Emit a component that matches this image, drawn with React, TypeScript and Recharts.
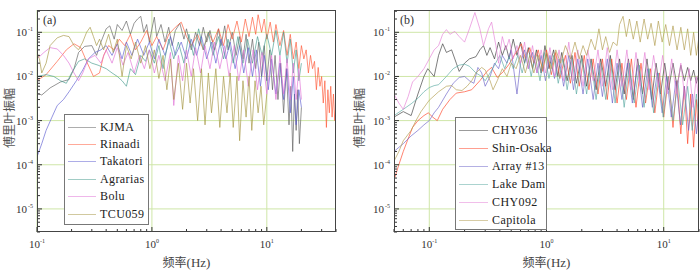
import { CartesianGrid, Line, LineChart, XAxis, YAxis } from "recharts";

type Pt = [number, number];

// ---- panel (a) ----
const kjma: Pt[] = [
  [0.1, 4.2e-3], [0.11, 3.8e-3], [0.13, 5.5e-3], [0.16, 7.5e-3], [0.19, 8.5e-3], [0.21, 1.5e-2],
  [0.23, 3.5e-2], [0.26, 4.8e-2], [0.3, 5e-2], [0.33, 3e-2], [0.36, 6e-2], [0.4, 1.2e-1],
  [0.43, 1.4e-1], [0.47, 7e-2], [0.5, 1.5e-1], [0.55, 1.1e-1], [0.6, 1.8e-1], [0.65, 9e-2],
  [0.7, 1.6e-1], [0.75, 2.0e-1], [0.8, 2.3e-1], [0.85, 1.0e-1], [0.9, 1.5e-1], [0.95, 6e-2],
  [1.0, 1.2e-1], [1.05, 2.2e-1], [1.1, 8e-2], [1.2, 1.5e-1], [1.3, 6e-2], [1.4, 1.3e-1],
  [1.5, 5e-2], [1.6, 1.1e-1], [1.75, 1.6e-1], [1.9, 7e-2], [2.0, 1.2e-1], [2.2, 4e-2],
  [2.4, 1.0e-1], [2.6, 5e-2], [2.8, 1.3e-1], [3.0, 6e-2], [3.2, 1.1e-1], [3.5, 4e-2],
  [3.8, 1.2e-1], [4.0, 5e-2], [4.3, 1.4e-1], [4.6, 4e-2], [5.0, 1.0e-1], [5.4, 3e-2],
  [5.8, 8e-2], [6.2, 2.5e-2], [6.6, 9e-2], [7.0, 2e-2], [7.5, 7e-2], [8.0, 1.5e-2],
  [8.5, 6e-2], [9.0, 1e-2], [9.5, 5e-2], [10, 8e-3], [10.6, 4e-2], [11.2, 5e-3],
  [11.8, 3e-2], [12.5, 3e-3], [13.2, 2e-2], [14, 1.5e-3], [14.8, 1.5e-2], [15.6, 8e-4],
  [16.2, 6e-3], [16.8, 2e-4], [17.4, 4e-3], [18, 6e-4], [18.6, 5e-3], [19.2, 3e-4], [20, 2e-3],
];
const rinaldi: Pt[] = [
  [0.1, 8e-3], [0.12, 1.1e-2], [0.15, 2.2e-2], [0.18, 4e-2], [0.21, 5.5e-2], [0.24, 4.5e-2],
  [0.27, 2.2e-2], [0.31, 1.0e-2], [0.35, 1.2e-2], [0.38, 3e-2], [0.42, 5e-2], [0.47, 4e-2],
  [0.52, 7e-2], [0.58, 5e-2], [0.65, 9e-2], [0.72, 4e-2], [0.8, 6e-2], [0.9, 1.1e-1],
  [1.0, 5e-2], [1.1, 8e-2], [1.25, 4e-2], [1.4, 9e-2], [1.6, 1.3e-1], [1.8, 1.7e-1],
  [2.0, 8e-2], [2.2, 5e-2], [2.5, 9e-2], [2.8, 4e-2], [3.1, 1.0e-1], [3.4, 6e-2],
  [3.8, 1.2e-1], [4.2, 5e-2], [4.6, 1.5e-1], [5.0, 7e-2], [5.5, 1.8e-1], [6.0, 6e-2],
  [6.5, 2.0e-1], [7.0, 8e-2], [7.5, 2.2e-1], [8.0, 9e-2], [8.4, 2.5e-1], [9.0, 1.0e-1],
  [9.5, 2.0e-1], [10, 7e-2], [10.7, 1.7e-1], [11.4, 6e-2], [12, 1.5e-1], [13, 5e-2],
  [14, 1.1e-1], [15, 3e-2], [16, 9e-2], [17, 2.5e-2], [18, 6e-2], [19, 1.5e-2],
  [20, 5e-2], [21, 2.5e-2], [22, 4e-2], [23, 1.2e-2], [24, 3e-2], [25, 1.5e-2],
  [26, 2.2e-2], [27, 5e-3], [28, 1.6e-2], [29, 6e-3], [30, 1.0e-2], [31, 2.5e-3],
  [32, 8e-3], [33, 7e-4], [34, 5e-3], [35, 1.5e-3], [36, 6e-3], [37, 1.2e-3],
  [38, 4e-3], [39, 1.0e-3], [40, 2.5e-3],
];
const takatori: Pt[] = [
  [0.1, 1.5e-4], [0.11, 3e-4], [0.12, 6e-4], [0.135, 1.2e-3], [0.15, 2.2e-3], [0.17, 3e-3],
  [0.19, 4.5e-3], [0.22, 8e-3], [0.25, 1.4e-2], [0.28, 2.5e-2], [0.32, 3.5e-2], [0.36, 4e-2],
  [0.4, 5e-2], [0.45, 3e-2], [0.5, 5.5e-2], [0.55, 2.5e-2], [0.6, 6e-2], [0.67, 3e-2],
  [0.75, 7e-2], [0.85, 3e-2], [0.95, 6e-2], [1.05, 2.5e-2], [1.15, 7e-2], [1.3, 3e-2],
  [1.45, 8e-2], [1.6, 3e-2], [1.8, 6e-2], [2.0, 2.5e-2], [2.2, 7e-2], [2.45, 3e-2],
  [2.7, 8e-2], [3.0, 2.5e-2], [3.3, 6e-2], [3.6, 2e-2], [4.0, 7e-2], [4.4, 2.5e-2],
  [4.8, 6e-2], [5.3, 1.5e-2], [5.8, 5e-2], [6.3, 1.2e-2], [6.9, 4.5e-2], [7.5, 1e-2],
  [8.1, 4e-2], [8.8, 6e-3], [9.5, 3e-2], [10.3, 5e-3], [11, 2.5e-2], [12, 4e-3],
  [13, 2e-2], [14, 3e-3], [15, 1.5e-2], [16, 1.5e-3], [17, 1e-2], [18, 8e-4],
  [19, 5e-3], [20, 2e-3],
];
const agrarias: Pt[] = [
  [0.1, 1.0e-2], [0.12, 1.1e-2], [0.14, 1.0e-2], [0.16, 8e-3], [0.18, 7e-3], [0.2, 1.2e-2],
  [0.23, 2.2e-2], [0.26, 2.5e-2], [0.3, 2.0e-2], [0.34, 1.8e-2], [0.4, 1.5e-2], [0.45, 1.2e-2],
  [0.5, 1.0e-2], [0.55, 8e-3], [0.6, 6e-3], [0.65, 1.5e-2], [0.72, 1.1e-2], [0.8, 3e-2],
  [0.88, 2.2e-2], [0.95, 4e-2], [1.05, 2e-2], [1.15, 5e-2], [1.25, 1.5e-2], [1.4, 7e-2],
  [1.55, 2.5e-2], [1.7, 6e-2], [1.9, 2e-2], [2.1, 9e-2], [2.3, 3e-2], [2.55, 1.2e-1],
  [2.8, 4e-2], [3.1, 1.0e-1], [3.4, 3e-2], [3.8, 8e-2], [4.2, 2.5e-2], [4.6, 7e-2],
  [5.1, 2e-2], [5.6, 8e-2], [6.2, 2e-2], [6.8, 7e-2], [7.5, 2e-2], [8.3, 8e-2],
  [9.1, 3e-2], [10, 9e-2], [11, 3e-2], [12, 1.1e-1], [13, 3e-2], [14, 1.0e-1],
  [15, 2e-2], [16, 7e-2], [17, 1.2e-2], [18, 4e-2], [19, 8e-3], [20, 2e-2],
];
const bolu: Pt[] = [
  [0.1, 2.5e-2], [0.115, 3.5e-2], [0.13, 4.5e-2], [0.15, 4.2e-2], [0.17, 3e-2], [0.19, 2e-2],
  [0.21, 1.2e-2], [0.23, 8e-3], [0.25, 1.2e-2], [0.28, 2.5e-2], [0.32, 3e-2], [0.36, 2e-2],
  [0.4, 4e-2], [0.45, 2e-2], [0.5, 4.5e-2], [0.56, 1.8e-2], [0.62, 3.5e-2], [0.7, 1.2e-2],
  [0.78, 3e-2], [0.86, 1.5e-2], [0.95, 4e-2], [1.05, 1.2e-2], [1.15, 3e-2], [1.3, 8e-3],
  [1.45, 3.5e-2], [1.55, 2.2e-3], [1.7, 3e-2], [1.85, 8e-3], [2.0, 4e-2], [2.2, 1e-2],
  [2.4, 4.5e-2], [2.65, 1.2e-2], [2.9, 5e-2], [3.2, 1.5e-2], [3.5, 6e-2], [3.9, 1.5e-2],
  [4.3, 5e-2], [4.7, 1e-2], [5.2, 5e-2], [5.7, 8e-3], [6.3, 4e-2], [6.9, 6e-3],
  [7.6, 4e-2], [8.3, 5e-3], [9.1, 3.5e-2], [10, 4e-3], [11, 3e-2], [12, 3e-3],
  [13, 3e-2], [14, 4e-3], [15, 2.5e-2], [16, 3e-3], [17, 2e-2], [18, 3e-3],
  [19, 1.5e-2], [20, 3e-3],
];
const tcu059: Pt[] = [
  [0.1, 3.5e-2], [0.105, 2.5e-2], [0.11, 1.2e-2], [0.12, 2.0e-2], [0.13, 5e-2], [0.15, 7.5e-2],
  [0.17, 8.5e-2], [0.19, 8e-2], [0.21, 5e-2], [0.23, 4e-2], [0.25, 6e-2], [0.27, 1.0e-1],
  [0.29, 1.3e-1], [0.31, 8e-2], [0.33, 5e-2], [0.35, 7e-2], [0.38, 4e-2], [0.42, 9e-2],
  [0.46, 3.5e-2], [0.5, 7e-2], [0.55, 1.0e-2], [0.6, 5e-2], [0.66, 2.5e-2], [0.72, 6e-2],
  [0.8, 2e-2], [0.88, 5e-2], [0.96, 1.5e-2], [1.05, 4e-2], [1.15, 9e-3], [1.25, 3e-2],
  [1.35, 5e-3], [1.45, 2.5e-2], [1.55, 3e-3], [1.7, 2e-2], [1.85, 1.8e-3], [2.0, 2e-2],
  [2.15, 2.5e-3], [2.3, 1.5e-2], [2.5, 1e-3], [2.7, 1.5e-2], [2.9, 8e-4], [3.1, 1.2e-2],
  [3.3, 1.5e-3], [3.6, 1.5e-2], [3.9, 7e-4], [4.2, 1e-2], [4.5, 1.5e-3], [4.8, 1.2e-2],
  [5.1, 7e-4], [5.5, 1e-2], [5.8, 3.5e-4], [6.2, 8e-3], [6.6, 1.2e-3], [7.0, 1e-2],
  [7.4, 6e-4], [7.9, 8e-3], [8.4, 1.5e-3], [8.9, 6e-3], [9.4, 8e-4], [10, 4e-3],
];

// ---- panel (b) ----
const chy036: Pt[] = [
  [0.05, 1.2e-3], [0.06, 1.6e-3], [0.07, 1.3e-3], [0.08, 4e-3], [0.09, 1.0e-2], [0.097, 1.5e-2],
  [0.11, 1.0e-2], [0.12, 3e-2], [0.13, 5.5e-2], [0.14, 3.5e-2], [0.155, 4e-2], [0.17, 2e-2],
  [0.18, 1.3e-2], [0.2, 2e-2], [0.22, 2.5e-2], [0.25, 2.8e-2], [0.27, 4e-2], [0.29, 5e-2],
  [0.31, 3e-2], [0.33, 4.5e-2], [0.36, 2.5e-2], [0.39, 6e-2], [0.42, 3e-2], [0.45, 5e-2],
  [0.48, 2.5e-2], [0.52, 7e-2], [0.56, 3e-2], [0.6, 6e-2], [0.65, 2e-2], [0.7, 4.5e-2],
  [0.76, 1.5e-2], [0.82, 4e-2], [0.9, 1.2e-2], [0.97, 5e-2], [1.05, 1.5e-2], [1.15, 4e-2],
  [1.25, 1e-2], [1.35, 3.5e-2], [1.5, 8e-3], [1.65, 3e-2], [1.8, 7e-3], [2.0, 3e-2],
  [2.2, 6e-3], [2.4, 2.5e-2], [2.65, 5e-3], [2.9, 2.5e-2], [3.2, 6e-3], [3.5, 3e-2],
  [3.85, 5e-3], [4.2, 2.5e-2], [4.6, 4e-3], [5.0, 2.5e-2], [5.5, 3e-3], [6.0, 2.5e-2],
  [6.6, 4e-3], [7.2, 2.5e-2], [7.9, 3e-3], [8.6, 2e-2], [9.4, 4e-3], [10.2, 2e-2],
  [11, 5e-3], [12, 2e-2], [13, 6e-3], [14, 1.8e-2], [15, 8e-3], [16, 1.6e-2],
  [17, 8e-3], [18, 1.4e-2], [19, 7e-3], [20, 1.2e-2],
];
const shinOsaka: Pt[] = [
  [0.05, 4.5e-5], [0.055, 1e-4], [0.06, 2e-4], [0.065, 3.5e-4], [0.072, 7e-4], [0.08, 1e-3],
  [0.09, 1.3e-3], [0.098, 1.5e-3], [0.107, 1.2e-3], [0.117, 1.0e-3], [0.13, 1.8e-3], [0.15, 3e-3],
  [0.17, 4.2e-3], [0.2, 4.5e-3], [0.23, 5e-3], [0.27, 8e-3], [0.31, 1.3e-2], [0.34, 1.6e-2],
  [0.38, 9.5e-3], [0.43, 1.3e-2], [0.48, 1.9e-2], [0.53, 3e-2], [0.57, 4e-2], [0.61, 5.5e-2],
  [0.66, 2.5e-2], [0.72, 4.5e-2], [0.78, 2e-2], [0.85, 4e-2], [0.93, 1.3e-2], [1.0, 4e-2],
  [1.1, 1.1e-2], [1.2, 3.5e-2], [1.3, 9e-3], [1.45, 3e-2], [1.6, 7e-3], [1.75, 3.5e-2],
  [1.9, 6e-3], [2.1, 3e-2], [2.3, 5e-3], [2.5, 2.5e-2], [2.75, 4e-3], [3.0, 2.5e-2],
  [3.3, 3e-3], [3.6, 2.5e-2], [4.0, 2.5e-3], [4.4, 2e-2], [4.8, 3e-3], [5.3, 2.5e-2],
  [5.8, 2e-3], [6.4, 2e-2], [7.0, 2.5e-3], [7.7, 1.5e-2], [8.4, 1.5e-3], [9.2, 1.2e-2],
  [10, 1.2e-3], [11, 1e-2], [12, 7e-4], [13, 8e-3], [14, 5e-4], [15, 6e-3],
  [16, 3e-4], [17, 4e-3], [18, 2.5e-4], [19, 3e-3], [20, 3e-4],
];
const array13: Pt[] = [
  [0.05, 2e-4], [0.06, 3e-4], [0.07, 4.5e-4], [0.08, 6e-4], [0.09, 8e-4], [0.1, 1e-3],
  [0.11, 1.5e-3], [0.12, 2e-3], [0.14, 4e-3], [0.16, 7e-3], [0.18, 9.5e-3], [0.2, 1.0e-2],
  [0.22, 8e-3], [0.24, 7e-3], [0.26, 1.6e-2], [0.28, 1.2e-2], [0.3, 6e-3], [0.33, 1.0e-2],
  [0.36, 2e-2], [0.39, 1.5e-2], [0.42, 3e-2], [0.46, 2e-2], [0.5, 4e-2], [0.53, 1.2e-2],
  [0.56, 4e-3], [0.6, 2e-2], [0.65, 4e-2], [0.7, 1.5e-2], [0.76, 3.5e-2], [0.83, 1.2e-2],
  [0.9, 3e-2], [0.98, 8e-3], [1.07, 3e-2], [1.17, 9e-3], [1.28, 2.5e-2], [1.4, 6e-3],
  [1.55, 3e-2], [1.7, 5e-3], [1.85, 2.5e-2], [2.05, 4e-3], [2.25, 2.5e-2], [2.5, 3e-3],
  [2.75, 2e-2], [3.0, 3.5e-3], [3.3, 2.5e-2], [3.65, 2.5e-3], [4.0, 2e-2], [4.4, 3e-3],
  [4.9, 2e-2], [5.4, 2.5e-3], [6.0, 1.8e-2], [6.6, 2e-3], [7.3, 1.5e-2], [8.0, 2e-3],
  [8.8, 1.2e-2], [9.7, 1.5e-3], [10.6, 1e-2], [11.6, 1.2e-3], [12.7, 8e-3], [13.9, 8e-4],
  [15, 6e-3], [16.3, 6e-4], [17.6, 4e-3], [19, 5e-4], [20, 2e-3],
];
const lakeDam: Pt[] = [
  [0.05, 1.3e-3], [0.06, 1.8e-3], [0.07, 2.4e-3], [0.08, 3.2e-3], [0.09, 4.5e-3], [0.1, 5.6e-3],
  [0.11, 6.2e-3], [0.12, 6.5e-3], [0.14, 1e-2], [0.16, 1.5e-2], [0.18, 1.8e-2], [0.2, 1.9e-2],
  [0.22, 1.7e-2], [0.25, 1.2e-2], [0.28, 1.0e-2], [0.3, 8e-3], [0.33, 1.2e-2], [0.36, 1.8e-2],
  [0.4, 3e-2], [0.44, 1.5e-2], [0.48, 2.8e-2], [0.52, 1.5e-2], [0.57, 3e-2], [0.62, 1.2e-2],
  [0.68, 3.5e-2], [0.74, 1e-2], [0.8, 3e-2], [0.88, 8e-3], [0.96, 3.5e-2], [1.05, 9e-3],
  [1.15, 3e-2], [1.26, 7e-3], [1.38, 2.5e-2], [1.5, 5e-3], [1.65, 2.5e-2], [1.8, 4e-3],
  [2.0, 2.5e-2], [2.2, 4e-3], [2.4, 2.2e-2], [2.65, 3e-3], [2.9, 2e-2], [3.2, 3e-3],
  [3.5, 2.5e-2], [3.85, 2.5e-3], [4.2, 2e-2], [4.6, 2e-3], [5.1, 2e-2], [5.6, 2.5e-3],
  [6.2, 1.8e-2], [6.8, 2e-3], [7.5, 1.5e-2], [8.2, 1.5e-3], [9.0, 1.2e-2], [9.9, 1.2e-3],
  [10.9, 1e-2], [12, 1e-3], [13.2, 8e-3], [14.5, 8e-4], [16, 6e-3], [17.5, 6e-4],
  [19, 4e-3], [20, 1e-3],
];
const chy092: Pt[] = [
  [0.05, 4e-3], [0.055, 2.5e-3], [0.06, 1.8e-3], [0.066, 3.5e-3], [0.072, 7.5e-3], [0.08, 1e-2],
  [0.09, 1.5e-2], [0.1, 2.5e-2], [0.11, 4e-2], [0.12, 5e-2], [0.13, 9e-2], [0.14, 1.15e-1],
  [0.15, 9e-2], [0.165, 1.05e-1], [0.18, 8e-2], [0.2, 6e-2], [0.22, 1.2e-1], [0.245, 2.8e-1],
  [0.27, 1.2e-1], [0.29, 5e-2], [0.32, 1.2e-1], [0.34, 1.7e-1], [0.37, 5e-2], [0.39, 2e-2],
  [0.42, 8e-2], [0.45, 4e-2], [0.48, 7e-2], [0.52, 2.5e-2], [0.56, 5e-2], [0.6, 2e-2],
  [0.65, 6e-2], [0.7, 1.5e-2], [0.76, 5e-2], [0.83, 1.2e-2], [0.9, 4e-2], [0.98, 1.2e-2],
  [1.07, 4.5e-2], [1.17, 1e-2], [1.28, 4e-2], [1.4, 8e-3], [1.55, 6e-2], [1.7, 8e-3],
  [1.85, 4e-2], [2.05, 6e-3], [2.25, 4e-2], [2.5, 8e-3], [2.75, 4e-2], [3.0, 6e-3],
  [3.3, 4.5e-2], [3.65, 5e-3], [4.0, 4e-2], [4.4, 6e-3], [4.85, 4e-2], [5.3, 5e-3],
  [5.8, 3.5e-2], [6.3, 6e-3], [6.9, 3.5e-2], [7.5, 5e-3], [8.2, 3e-2], [9.0, 6e-3],
  [9.8, 3e-2], [10.7, 4e-3], [11.7, 2.5e-2], [12.8, 4e-3], [14, 2e-2], [15.2, 3e-3],
  [16.5, 1.5e-2], [17.8, 2e-3], [19, 1e-2], [20, 2e-3],
];
const capitola: Pt[] = [
  [0.05, 1.2e-4], [0.055, 2e-4], [0.06, 3.5e-4], [0.07, 6e-4], [0.077, 1e-3], [0.085, 1.6e-3],
  [0.1, 2.9e-3], [0.12, 4.5e-3], [0.14, 6e-3], [0.155, 6.2e-3], [0.17, 5e-3], [0.19, 4.8e-3],
  [0.21, 6e-3], [0.23, 8e-3], [0.25, 1.2e-2], [0.28, 1.6e-2], [0.3, 1.4e-2], [0.33, 8e-3],
  [0.35, 5e-3], [0.38, 8e-3], [0.42, 1.5e-2], [0.46, 1e-2], [0.5, 2e-2], [0.55, 1.5e-2],
  [0.6, 3e-2], [0.66, 1.2e-2], [0.72, 3e-2], [0.78, 1.2e-2], [0.85, 3e-2], [0.93, 1.5e-2],
  [1.0, 3.5e-2], [1.1, 1.5e-2], [1.2, 4e-2], [1.32, 2e-2], [1.45, 5e-2], [1.6, 2.5e-2],
  [1.75, 6e-2], [1.9, 2.5e-2], [2.05, 5e-2], [2.2, 3e-2], [2.4, 7e-2], [2.6, 4e-2],
  [2.8, 1.2e-1], [3.0, 4e-2], [3.2, 8e-2], [3.45, 3.5e-2], [3.7, 6e-2], [4.0, 5e-2],
  [4.2, 1.5e-1], [4.5, 2.3e-1], [4.8, 8e-2], [5.1, 2e-1], [5.5, 7e-2], [5.9, 1.8e-1],
  [6.3, 6e-2], [6.8, 2e-1], [7.3, 7e-2], [7.8, 1.6e-1], [8.4, 5e-2], [9.0, 1.8e-1],
  [9.7, 6e-2], [10.4, 1.5e-1], [11.2, 5e-2], [12, 1.4e-1], [13, 4e-2], [14, 1.3e-1],
  [15, 4e-2], [16, 1.2e-1], [17, 3e-2], [18, 1e-1], [19, 3e-2], [20, 8e-2],
];

interface Series {
  name: string;
  color: string;
  points: Pt[];
}

const seriesA: Series[] = [
  { name: "KJMA", color: "#5c5c5c", points: kjma },
  { name: "Rinaadi", color: "#ff5533", points: rinaldi },
  { name: "Takatori", color: "#5c5cd0", points: takatori },
  { name: "Agrarias", color: "#449a8c", points: agrarias },
  { name: "Bolu", color: "#e070d6", points: bolu },
  { name: "TCU059", color: "#a4943f", points: tcu059 },
];
const seriesB: Series[] = [
  { name: "CHY036", color: "#383838", points: chy036 },
  { name: "Shin-Osaka", color: "#ff3f22", points: shinOsaka },
  { name: "Array #13", color: "#6a62c8", points: array13 },
  { name: "Lake Dam", color: "#58a8a0", points: lakeDam },
  { name: "CHY092", color: "#e47ed6", points: chy092 },
  { name: "Capitola", color: "#b09a4c", points: capitola },
];

const decades = [1e-6, 1e-5, 1e-4, 1e-3, 1e-2, 1e-1, 1, 10];
const yMajor = [1e-5, 1e-4, 1e-3, 1e-2, 1e-1];
const yDomain: [number, number] = [3e-6, 0.32];

function logTicks(lo: number, hi: number) {
  const out: number[] = [];
  for (const d of decades) {
    for (let k = 1; k <= 9; k++) {
      const v = d * k;
      if (v >= lo * 0.999 && v <= hi * 1.001) out.push(v);
    }
  }
  return out;
}

const serif = '"Liberation Serif", "Times New Roman", serif';
const cjk = '"Noto Sans CJK SC", sans-serif';
const ink = "#333";

function isMajor(v: number) {
  const l = Math.log10(v);
  return Math.abs(l - Math.round(l)) < 1e-6;
}

function XTick(props: any) {
  const { x, y, payload } = props;
  const v = payload.value;
  const major = isMajor(v);
  return (
    <g>
      <line x1={x} x2={x} y1={y} y2={y - (major ? 5 : 3)} stroke={ink} strokeWidth={1} />
      {major ? (
        <text x={x} y={y + 16} textAnchor="middle" fontFamily={serif} fontSize={11} fill={ink}>
          <tspan>10</tspan>
          <tspan dy={-5} fontSize={6}>{Math.round(Math.log10(v))}</tspan>
        </text>
      ) : null}
    </g>
  );
}

function YTick(props: any) {
  const { x, y, payload } = props;
  const v = payload.value;
  const major = isMajor(v);
  return (
    <g>
      <line x1={x} x2={x + (major ? 5 : 3)} y1={y} y2={y} stroke={ink} strokeWidth={1} />
      {major ? (
        <text x={x - 10} y={y + 4} textAnchor="end" fontFamily={serif} fontSize={11} fill={ink}>
          10
        </text>
      ) : null}
      {major ? (
        <text x={x - 9} y={y - 1} textAnchor="start" fontFamily={serif} fontSize={6} fill={ink}>
          {Math.round(Math.log10(v))}
        </text>
      ) : null}
    </g>
  );
}

interface PanelProps {
  tag: string;
  series: Series[];
  xDomain: [number, number];
  yAxisWidth: number;
  rightMargin: number;
  legend: { left: number; top: number; width: number; height: number; rowTop: number; rowGap: number; lineW: number };
}

const W = 350;
const H = 275;
const TOP = 10;
const XH = 43;

function Panel({ tag, series, xDomain, yAxisWidth, rightMargin, legend }: PanelProps) {
  const plotW = W - yAxisWidth - rightMargin;
  const plotH = H - TOP - XH;
  const xTicks = logTicks(xDomain[0], xDomain[1]);
  const xMajor = xTicks.filter(isMajor);
  const yTicks = logTicks(yDomain[0], yDomain[1]);
  return (
    <div style={{ position: "relative", width: W, height: H }}>
      <LineChart width={W} height={H} margin={{ top: TOP, right: rightMargin, bottom: 0, left: 0 }}>
        <CartesianGrid
          stroke="#cfe6a8"
          strokeWidth={1}
          horizontalValues={yMajor}
          verticalValues={xMajor}
        />
        <XAxis
          dataKey="f"
          type="number"
          scale="log"
          domain={xDomain}
          allowDataOverflow
          ticks={xTicks}
          interval={0}
          tick={<XTick />}
          tickLine={false}
          axisLine={false}
          tickSize={0}
          tickMargin={0}
          height={XH}
        />
        <YAxis
          dataKey="a"
          type="number"
          scale="log"
          domain={yDomain}
          allowDataOverflow
          ticks={yTicks}
          interval={0}
          tick={<YTick />}
          tickLine={false}
          axisLine={false}
          tickSize={0}
          tickMargin={0}
          width={yAxisWidth}
        />
        {series.map((s) => (
          <Line
            key={s.name}
            name={s.name}
            data={s.points.map(([f, a]) => ({ f, a }))}
            dataKey="a"
            type="linear"
            stroke={s.color}
            strokeOpacity={0.72}
            strokeWidth={0.9}
            dot={false}
            activeDot={false}
            isAnimationActive={false}
          />
        ))}
      </LineChart>
      {/* frame */}
      <div
        style={{
          position: "absolute",
          left: yAxisWidth,
          top: TOP,
          width: plotW,
          height: plotH,
          border: "1px solid #444",
          boxSizing: "border-box",
          pointerEvents: "none",
        }}
      />
      <div style={{ position: "absolute", left: yAxisWidth + 6, top: TOP + 3, fontFamily: serif, fontSize: 12, color: ink }}>
        {tag}
      </div>
      {/* legend */}
      <div
        style={{
          position: "absolute",
          left: legend.left,
          top: legend.top,
          width: legend.width,
          height: legend.height,
          border: "1px solid #777",
          background: "#fff",
          boxSizing: "border-box",
        }}
      >
        {series.map((s, i) => (
          <div
            key={s.name}
            style={{
              position: "absolute",
              left: 3,
              top: legend.rowTop + i * legend.rowGap - 8,
              height: 16,
              display: "flex",
              alignItems: "center",
              whiteSpace: "nowrap",
            }}
          >
            <div style={{ width: legend.lineW, height: 1, background: s.color, opacity: 0.5 }} />
            <span style={{ marginLeft: 4, fontFamily: serif, fontSize: 12, color: "#222", letterSpacing: 0.4 }}>
              {s.name}
            </span>
          </div>
        ))}
      </div>
      {/* axis titles */}
      <div
        style={{
          position: "absolute",
          left: 8,
          top: TOP + plotH / 2 - 3,
          transform: "translate(-50%, -50%) rotate(-90deg)",
          fontFamily: cjk,
          fontSize: 12,
          color: "#555",
          whiteSpace: "nowrap",
        }}
      >
        傅里叶振幅
      </div>
      <div
        style={{
          position: "absolute",
          left: yAxisWidth + plotW / 2,
          top: 262,
          transform: "translate(-50%, -50%)",
          fontSize: 12,
          color: "#444",
          whiteSpace: "nowrap",
        }}
      >
        <span style={{ fontFamily: cjk }}>频率</span>
        <span style={{ fontFamily: serif, fontSize: 13 }}>(Hz)</span>
      </div>
    </div>
  );
}

export default function App() {
  return (
    <div style={{ position: "absolute", left: 0, top: 0, width: 700, height: 275, background: "#fff", display: "flex" }}>
      <Panel
        tag="(a)"
        series={seriesA}
        xDomain={[0.1, 40]}
        yAxisWidth={37}
        rightMargin={14}
        legend={{ left: 64, top: 114, width: 85, height: 111, rowTop: 12, rowGap: 17.4, lineW: 28 }}
      />
      <Panel
        tag="(b)"
        series={seriesB}
        xDomain={[0.05, 20]}
        yAxisWidth={44}
        rightMargin={1}
        legend={{ left: 105, top: 117, width: 92, height: 113, rowTop: 12, rowGap: 18, lineW: 29 }}
      />
    </div>
  );
}
